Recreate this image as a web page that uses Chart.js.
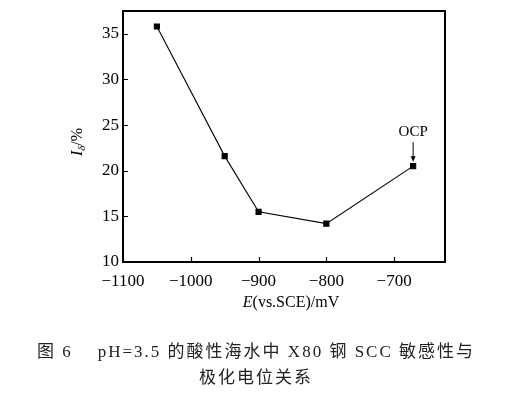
<!DOCTYPE html>
<html>
<head>
<meta charset="utf-8">
<script src="https://cdn.jsdelivr.net/npm/chart.js@4"></script>
<style>
html,body{margin:0;padding:0;background:#fff;}
#wrap{position:relative;width:512px;height:396px;}
#c{position:absolute;left:0;top:0;}
#cap{position:absolute;left:0;top:339px;width:512px;text-align:center;font-family:"Liberation Serif","Noto Sans CJK SC",serif;font-size:17px;letter-spacing:2px;line-height:26px;color:#222;white-space:pre;}
</style>
</head>
<body>
<div id="wrap">
<canvas id="c" width="512" height="396"></canvas>
<div id="cap">图 6    pH=3.5 的酸性海水中 X80 钢 SCC 敏感性与
极化电位关系</div>
</div>
<script>
const potentials = [-1050, -950, -900, -800, -672];
const iDelta = [35.8, 21.6, 15.5, 14.2, 20.5];
const xTicks = [-1100, -1000, -900, -800, -700];
const yTicks = [10, 15, 20, 25, 30, 35];
const annotationText = 'OCP';

const FONT = '"Liberation Serif", "Times New Roman", serif';

const extras = {
  id: 'extras',
  afterDraw(chart) {
    const ctx = chart.ctx;
    const a = chart.chartArea;
    const xs = chart.scales.x, ys = chart.scales.y;
    ctx.save();
    ctx.strokeStyle = '#000';
    ctx.lineWidth = 2;
    ctx.strokeRect(a.left, a.top, a.right - a.left, a.bottom - a.top);
    ctx.lineWidth = 1.2;
    ctx.beginPath();
    xs.ticks.forEach(t => {
      const px = Math.round(xs.getPixelForValue(t.value)) + 0.5;
      ctx.moveTo(px, a.bottom); ctx.lineTo(px, a.bottom - 5);
    });
    ys.ticks.forEach(t => {
      const py = Math.round(ys.getPixelForValue(t.value)) + 0.5;
      ctx.moveTo(a.left, py); ctx.lineTo(a.left + 5, py);
    });
    ctx.stroke();

    // x title
    ctx.fillStyle = '#000';
    ctx.textBaseline = 'middle';
    const xt1 = 'E', xt2 = '(vs.SCE)/mV';
    ctx.font = 'italic 16px ' + FONT;
    const w1 = ctx.measureText(xt1).width;
    ctx.font = '16px ' + FONT;
    const w2 = ctx.measureText(xt2).width;
    let sx = (a.left + a.right) / 2 + 7 - (w1 + w2) / 2;
    const ty = 303;
    ctx.font = 'italic 16px ' + FONT;
    ctx.textAlign = 'left';
    ctx.fillText(xt1, sx, ty);
    ctx.font = '16px ' + FONT;
    ctx.fillText(xt2, sx + w1, ty);

    // y title rotated
    ctx.save();
    ctx.translate(77, 142);
    ctx.rotate(-Math.PI / 2);
    ctx.font = 'italic 16px ' + FONT;
    const yw1 = ctx.measureText('I').width;
    ctx.font = 'italic 11px ' + FONT;
    const yw2 = ctx.measureText('δ').width;
    ctx.font = '16px ' + FONT;
    const yw3 = ctx.measureText('/%').width;
    let yx = -(yw1 + yw2 + yw3) / 2;
    ctx.textBaseline = 'alphabetic';
    ctx.font = 'italic 16px ' + FONT;
    ctx.fillText('I', yx, 5);
    ctx.font = 'italic 11px ' + FONT;
    ctx.fillText('δ', yx + yw1, 8);
    ctx.font = '16px ' + FONT;
    ctx.fillText('/%', yx + yw1 + yw2, 5);
    ctx.restore();

    // OCP annotation
    const meta = chart.getDatasetMeta(0);
    const p = meta.data[meta.data.length - 1];
    ctx.font = '15px ' + FONT;
    ctx.textAlign = 'center';
    ctx.textBaseline = 'middle';
    ctx.fillText(annotationText, p.x, p.y - 34);
    ctx.lineWidth = 1;
    ctx.beginPath();
    ctx.moveTo(p.x, p.y - 24); ctx.lineTo(p.x, p.y - 8);
    ctx.stroke();
    ctx.beginPath();
    ctx.moveTo(p.x - 2.5, p.y - 10); ctx.lineTo(p.x + 2.5, p.y - 10); ctx.lineTo(p.x, p.y - 4.5);
    ctx.closePath(); ctx.fill();
    ctx.restore();
  }
};

new Chart(document.getElementById('c'), {
  type: 'line',
  data: {
    datasets: [{
      data: potentials.map((x, i) => ({x, y: iDelta[i]})),
      borderColor: '#000',
      backgroundColor: '#000',
      borderWidth: 1.1,
      pointStyle: 'rect',
      pointRadius: 3.6,
      pointHoverRadius: 3.6,
      tension: 0
    }]
  },
  options: {
    responsive: false,
    animation: false,
    devicePixelRatio: 1,
    layout: {padding: {top: 11, right: 67, left: 0, bottom: 0}},
    plugins: {legend: {display: false}, tooltip: {enabled: false}},
    scales: {
      x: {
        type: 'linear', min: -1100, max: -625,
        afterBuildTicks: s => { s.ticks = xTicks.map(v => ({value: v})); },
        afterFit: s => { s.height = 134; },
        grid: {display: false, drawTicks: false, tickLength: 0},
        border: {display: false},
        ticks: {color: '#000', padding: 9, maxRotation: 0, font: {family: FONT, size: 17},
          callback: v => String(v).replace('-', '\u2212')}
      },
      y: {
        type: 'linear', min: 10, max: 37.5,
        afterBuildTicks: s => { s.ticks = yTicks.map(v => ({value: v})); },
        afterFit: s => { s.width = 123; },
        grid: {display: false, drawTicks: false, tickLength: 0},
        border: {display: false},
        ticks: {color: '#000', padding: 4, font: {family: FONT, size: 17, lineHeight: 0.8}}
      }
    }
  },
  plugins: [extras]
});
</script>
</body>
</html>
